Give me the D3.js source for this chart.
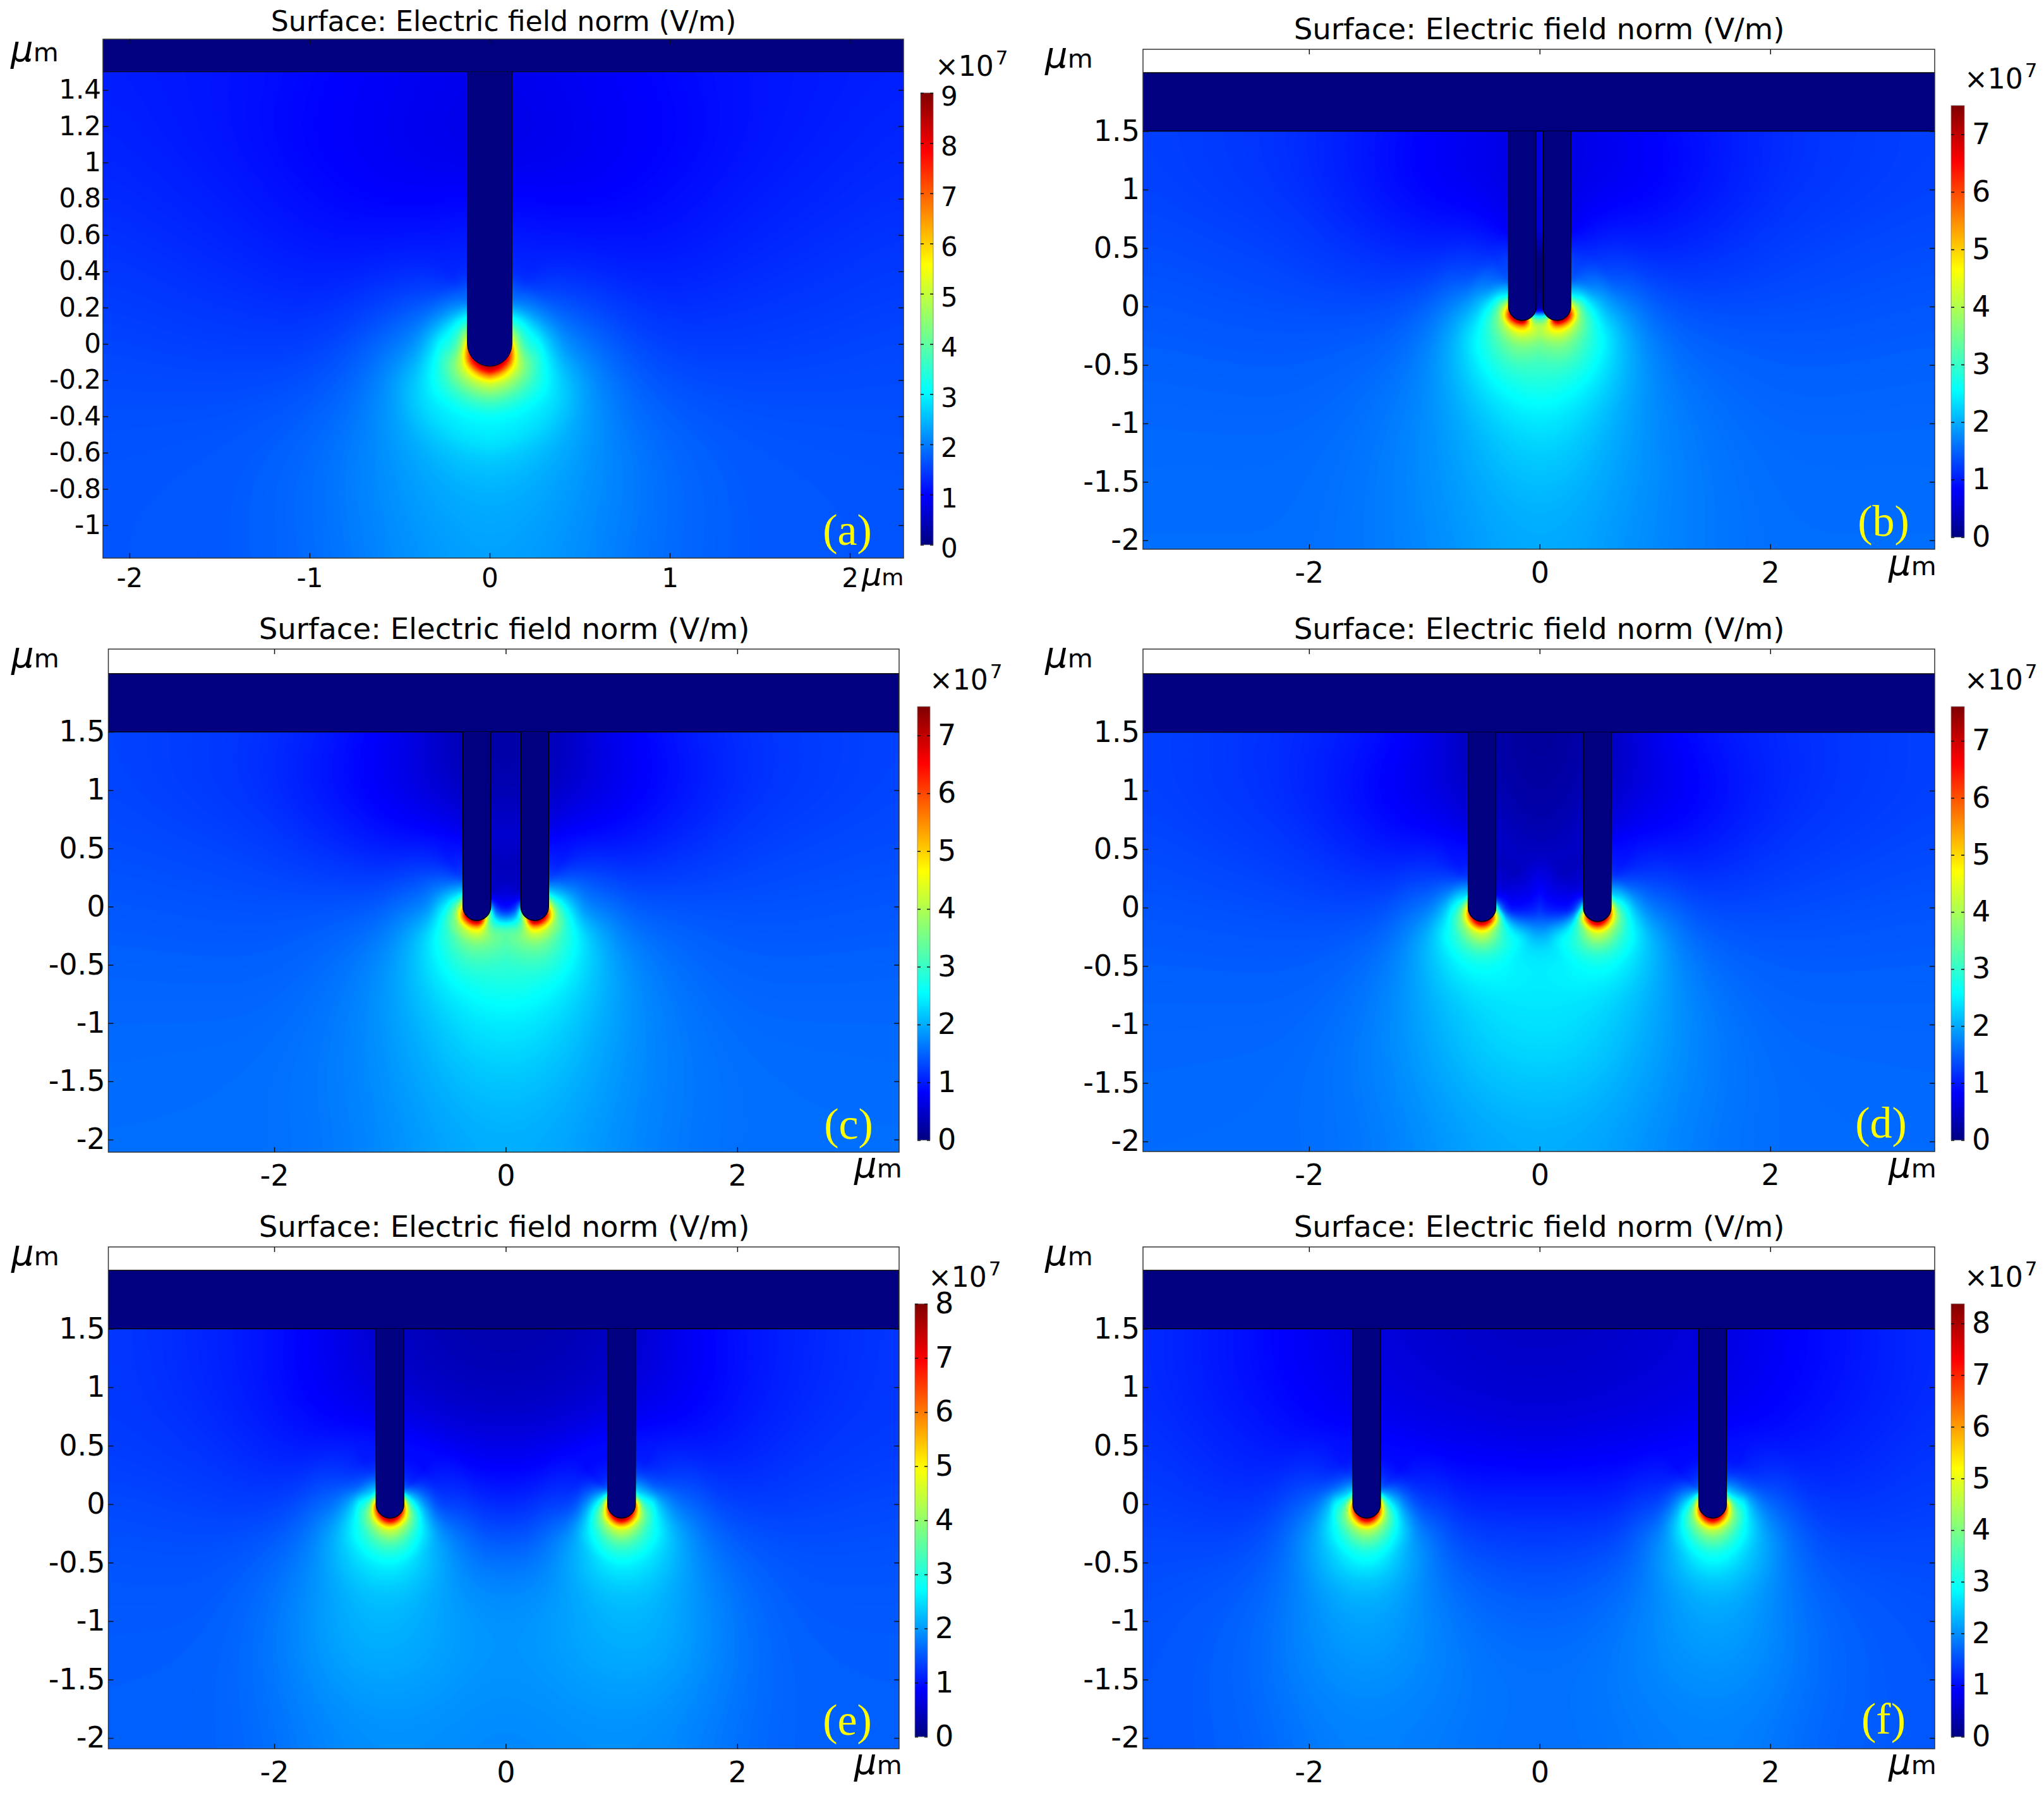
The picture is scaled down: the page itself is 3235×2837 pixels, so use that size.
<!DOCTYPE html>
<html>
<head>
<meta charset="utf-8">
<title>Surface: Electric field norm</title>
<script src="https://cdn.jsdelivr.net/npm/d3@7"></script>
<style>
  html, body { margin: 0; padding: 0; background: #fff; }
  text { font-family: "DejaVu Sans", sans-serif; fill: #000; }
  .domain { display: none; }
</style>
</head>
<body>
<svg id="chart" width="3235" height="2837"></svg>
<script>
// field norm values below are in units of 1e7 V/m, read by eye from the colours of the picture

const jetStops = [0, 0.11, 0.34, 0.62, 0.87, 1]
const jetColors = ['#000080', '#0000ff', '#00ffff', '#ffff00', '#ff0000', '#800000']

const titleText = 'Surface: Electric field norm (V/m)'
const panelNames = ['(a)', '(b)', '(c)', '(d)', '(e)', '(f)']
const colorMax = [9, 7.5, 7.5, 7.6, 8, 8.38]
const tipX = [0, 0.15, 0.25, 0.5, 1, 1.5]

const xTicksA = [-2, -1, 0, 1, 2]
const xTicks = [-2, 0, 2]
const yTicksA = [-1, -0.8, -0.6, -0.4, -0.2, 0, 0.2, 0.4, 0.6, 0.8, 1, 1.2, 1.4]
const yTicks = [-2, -1.5, -1, -0.5, 0, 0.5, 1, 1.5]

// around a tip: value by angle from straight down (+ = away from centre) and distance from tip centre
const haloDist = [0.124, 0.15, 0.18, 0.22, 0.27, 0.33, 0.42, 0.55, 0.75, 1.0]
const haloAnglesA = [0, 45, 90, 120, 150]
const haloAngles = [-135, -90, -45, 0, 45, 90, 120, 150]

const haloA = [
  [8.7, 7.9, 6.5, 5.2, 4.4, 3.65, 3.05, 2.85, 2.5, 2.35],
  [8.2, 7, 5.7, 4.8, 4.1, 3.5, 3, 2.65, 2.2, 2],
  [6, 4.8, 3.9, 3.4, 3.1, 2.65, 2.2, 1.9, 1.65, 1.52],
  [4.5, 4.2, 3.5, 3, 2.5, 2.1, 1.75, 1.5, 1.3, 1.25],
  [3, 3, 3, 2.5, 2, 1.7, 1.35, 1.2, 1.1, 1.05]
]
const haloB = [
  [0.02, 0.02, 0.02, 0.02, 0.02, 0.02, 0.02, 0.02, 0.02, 0.02],
  [0.1, 0.3, 0.8, 1, 1, 1, 1, 1, 1, 1],
  [3, 3.3, 3.5, 3.9, 3.9, 3.6, 3.25, 2.9, 2.6, 2.35],
  [7.3, 6.2, 5.2, 4.55, 4.05, 3.65, 3.3, 2.95, 2.6, 2.35],
  [7, 6, 5, 4.1, 3.6, 3.2, 2.85, 2.55, 2.15, 1.88],
  [5, 4.2, 3.7, 3.1, 2.65, 2.35, 2.05, 1.78, 1.5, 1.4],
  [3.4, 3, 2.5, 2.3, 2, 1.75, 1.6, 1.3, 1.12, 1.05],
  [2.2, 2.2, 2, 1.7, 1.45, 1.35, 1.25, 1.1, 0.98, 0.9]
]
const haloC = [
  [0.55, 0.55, 0.5, 0.45, 0.45, 0.42, 0.4, 0.38, 0.35, 0.3],
  [2, 1.4, 1.1, 0.95, 0.9, 0.9, 0.9, 0.9, 0.9, 0.9],
  [4.4, 3.6, 3, 2.9, 3.1, 3.3, 3.2, 2.9, 2.55, 2.35],
  [7.3, 6.3, 5.2, 4.45, 3.95, 3.55, 3.2, 2.9, 2.55, 2.3],
  [6.8, 5.8, 4.8, 3.9, 3.5, 3.05, 2.75, 2.45, 2.12, 1.85],
  [4.8, 4.1, 3.4, 2.9, 2.5, 2.2, 1.85, 1.6, 1.38, 1.28],
  [3.6, 3.1, 2.55, 2.2, 1.95, 1.7, 1.5, 1.28, 1.05, 0.92],
  [2.2, 2.2, 2, 1.7, 1.4, 1.2, 1.05, 0.92, 0.85, 0.8]
]
const haloD = [
  [1, 0.85, 0.72, 0.65, 0.55, 0.5, 0.42, 0.38, 0.28, 0.2],
  [3, 2, 1.45, 1.1, 0.95, 0.95, 1, 1.05, 1.05, 1.05],
  [6.2, 5.3, 4.2, 3.3, 2.9, 2.7, 2.6, 2.42, 2.5, 2.4],
  [7.3, 6.4, 5.3, 4.4, 3.9, 3.4, 2.9, 2.58, 2.35, 2.15],
  [6.5, 5.5, 4.6, 3.8, 3.3, 2.9, 2.6, 2.28, 1.98, 1.75],
  [5, 4, 3.3, 2.8, 2.45, 2.1, 1.8, 1.55, 1.35, 1.28],
  [3.4, 3, 2.4, 2.2, 1.9, 1.6, 1.4, 1.2, 1.05, 0.92],
  [2.2, 2.2, 2, 1.7, 1.4, 1.15, 1, 0.9, 0.85, 0.8]
]
const haloE = [
  [3.3, 2.2, 1.7, 1.35, 1.15, 1.05, 0.95, 0.88, 0.72, 0.55],
  [5.5, 4.2, 3.2, 2.65, 2.2, 1.8, 1.45, 1.25, 1.12, 1.05],
  [7, 5.9, 4.9, 4, 3.4, 2.9, 2.5, 2.12, 1.9, 1.82],
  [7.7, 6.8, 5.6, 4.6, 4.05, 3.5, 3, 2.58, 2.3, 2.1],
  [7, 6, 5, 4.1, 3.5, 3.05, 2.7, 2.35, 2.02, 1.78],
  [5.8, 4.6, 3.5, 3, 2.7, 2.25, 1.9, 1.6, 1.4, 1.3],
  [3.8, 3.2, 2.5, 2.2, 1.85, 1.55, 1.38, 1.22, 1.08, 1],
  [2.4, 2.4, 2.2, 1.8, 1.5, 1.25, 1.08, 0.98, 0.9, 0.85]
]
const haloF = [
  [3.3, 2.3, 1.8, 1.5, 1.3, 1.15, 1, 0.9, 0.78, 0.7],
  [5.6, 4.3, 3.3, 2.75, 2.35, 1.95, 1.6, 1.32, 1.15, 1.08],
  [7.2, 6.1, 5, 4.1, 3.5, 3, 2.55, 2.12, 1.82, 1.66],
  [8, 7, 5.8, 4.7, 4.1, 3.6, 3.05, 2.7, 2.32, 2.05],
  [7.2, 6.1, 5.1, 4.2, 3.6, 3.1, 2.7, 2.3, 1.98, 1.74],
  [5.9, 4.7, 3.7, 3.1, 2.8, 2.3, 1.9, 1.6, 1.35, 1.25],
  [4, 3.3, 2.6, 2.25, 1.9, 1.6, 1.38, 1.22, 1.08, 1],
  [2.4, 2.4, 2.2, 1.8, 1.5, 1.25, 1.08, 0.98, 0.9, 0.85]
]

// far from the tips: value on a coarse grid over x >= 0 (the field is mirrored about x = 0)
const farXA = [0, 0.3, 0.6, 1, 1.5, 2.3]
const farYA = [1.5, 1.2, 0.9, 0.6, 0.3, 0, -0.3, -0.6, -0.9, -1.19]
const farA = [
  [0.85, 0.9, 0.95, 1.05, 1.15, 1.25],
  [0.8, 0.85, 0.92, 1, 1.15, 1.3],
  [0.85, 0.88, 0.95, 1.05, 1.2, 1.35],
  [1, 1.02, 1.08, 1.15, 1.28, 1.42],
  [1.3, 1.28, 1.25, 1.3, 1.38, 1.5],
  [3, 2.85, 1.6, 1.48, 1.5, 1.58],
  [4, 3.05, 2.15, 1.7, 1.62, 1.62],
  [2.7, 2.6, 2.2, 1.85, 1.7, 1.66],
  [2.45, 2.35, 2.12, 1.88, 1.72, 1.68],
  [2.3, 2.22, 2.08, 1.85, 1.72, 1.68]
]
const farXNear = [0, 0.3, 0.6, 1, 1.5, 2.2, 3.45]
const farYRows = [1.5, 1.2, 0.9, 0.6, 0.3, 0, -0.4, -0.8, -1.2, -1.6, -2.11]
const farB = [
  [0.65, 0.68, 0.75, 0.85, 0.98, 1.15, 1.28],
  [0.62, 0.65, 0.72, 0.78, 0.95, 1.15, 1.28],
  [0.68, 0.7, 0.75, 0.85, 1, 1.18, 1.3],
  [0.95, 0.95, 0.95, 1, 1.1, 1.25, 1.34],
  [1.35, 1.3, 1.2, 1.18, 1.2, 1.3, 1.38],
  [2.2, 1.95, 1.6, 1.4, 1.35, 1.36, 1.42],
  [3.25, 2.7, 2, 1.62, 1.5, 1.45, 1.48],
  [2.7, 2.45, 2.05, 1.75, 1.58, 1.5, 1.52],
  [2.35, 2.2, 1.98, 1.78, 1.62, 1.55, 1.55],
  [2.1, 2.05, 1.92, 1.78, 1.64, 1.56, 1.56],
  [1.98, 1.95, 1.85, 1.75, 1.64, 1.58, 1.58]
]
const farC = [
  [0.22, 0.28, 0.55, 0.78, 1, 1.18, 1.3],
  [0.22, 0.25, 0.5, 0.72, 0.92, 1.15, 1.3],
  [0.32, 0.33, 0.55, 0.75, 0.95, 1.18, 1.32],
  [0.45, 0.48, 0.7, 0.92, 1.08, 1.25, 1.34],
  [0.6, 0.62, 1, 1.18, 1.22, 1.32, 1.38],
  [0.9, 0.95, 1.75, 1.55, 1.4, 1.38, 1.42],
  [3.2, 3.1, 2.5, 1.82, 1.55, 1.46, 1.48],
  [2.7, 2.6, 2.25, 1.88, 1.62, 1.52, 1.52],
  [2.35, 2.3, 2.1, 1.85, 1.66, 1.56, 1.55],
  [2.15, 2.1, 2, 1.82, 1.66, 1.58, 1.56],
  [2, 1.98, 1.9, 1.78, 1.64, 1.58, 1.58]
]
const farD = [
  [0.12, 0.2, 0.42, 0.78, 1, 1.15, 1.3],
  [0.15, 0.22, 0.4, 0.68, 0.9, 1.12, 1.3],
  [0.2, 0.28, 0.45, 0.68, 0.88, 1.15, 1.3],
  [0.3, 0.4, 0.55, 0.8, 1, 1.2, 1.34],
  [0.7, 0.72, 0.8, 1.02, 1.15, 1.28, 1.38],
  [1.05, 0.9, 1.3, 1.55, 1.32, 1.36, 1.42],
  [2.25, 2.3, 2.5, 2, 1.55, 1.46, 1.48],
  [2.45, 2.48, 2.4, 2, 1.65, 1.52, 1.52],
  [2.35, 2.35, 2.2, 1.95, 1.7, 1.56, 1.55],
  [2.15, 2.15, 2.05, 1.88, 1.68, 1.58, 1.56],
  [2, 1.98, 1.92, 1.8, 1.65, 1.58, 1.58]
]
const farXE = [0, 0.4, 0.8, 1.2, 1.6, 2, 2.6, 3.45]
const farE = [
  [0.3, 0.33, 0.42, 0.6, 0.85, 1, 1.15, 1.3],
  [0.36, 0.38, 0.45, 0.6, 0.8, 0.98, 1.15, 1.3],
  [0.45, 0.47, 0.55, 0.68, 0.85, 1, 1.18, 1.3],
  [0.6, 0.66, 0.78, 0.85, 0.95, 1.08, 1.22, 1.32],
  [0.88, 0.95, 1.05, 1.1, 1.1, 1.16, 1.28, 1.36],
  [1.15, 1.22, 1.45, 1.55, 1.4, 1.3, 1.36, 1.42],
  [1.6, 1.72, 2.1, 2.3, 1.95, 1.58, 1.46, 1.48],
  [1.9, 1.98, 2.2, 2.3, 2, 1.72, 1.52, 1.52],
  [1.95, 2, 2.15, 2.2, 2.02, 1.75, 1.56, 1.55],
  [1.92, 1.95, 2.02, 2.02, 1.92, 1.72, 1.58, 1.56],
  [1.82, 1.88, 1.9, 1.9, 1.82, 1.68, 1.58, 1.58]
]
const farXF = [0, 0.5, 1, 1.5, 2, 2.5, 3.45]
const farF = [
  [0.5, 0.52, 0.6, 0.68, 0.85, 1.02, 1.28],
  [0.55, 0.56, 0.62, 0.7, 0.85, 1, 1.28],
  [0.6, 0.62, 0.72, 0.8, 0.92, 1.05, 1.28],
  [0.68, 0.78, 0.88, 0.92, 1.02, 1.12, 1.32],
  [0.95, 0.98, 1.06, 1.12, 1.18, 1.2, 1.36],
  [1.2, 1.2, 1.32, 1.55, 1.42, 1.3, 1.42],
  [1.42, 1.48, 1.78, 2.3, 1.85, 1.5, 1.48],
  [1.62, 1.68, 1.95, 2.3, 1.98, 1.65, 1.52],
  [1.75, 1.78, 2, 2.15, 2, 1.7, 1.55],
  [1.78, 1.82, 1.92, 2, 1.92, 1.7, 1.56],
  [1.75, 1.8, 1.85, 1.9, 1.82, 1.66, 1.58]
]

const fieldData = [
  { farX: farXA, farY: farYA, far: farA, angles: haloAnglesA, halo: haloA, tipR: 0.124 },
  { farX: farXNear, farY: farYRows, far: farB, angles: haloAngles, halo: haloB, tipR: 0.12 },
  { farX: farXNear, farY: farYRows, far: farC, angles: haloAngles, halo: haloC, tipR: 0.12 },
  { farX: farXNear, farY: farYRows, far: farD, angles: haloAngles, halo: haloD, tipR: 0.12 },
  { farX: farXE, farY: farYRows, far: farE, angles: haloAngles, halo: haloE, tipR: 0.12 },
  { farX: farXF, farY: farYRows, far: farF, angles: haloAngles, halo: haloF, tipR: 0.12 }
]

// page layout, in pixels
const layouts = [
  { box: [163, 62, 1430, 883], xDom: [-2.147, 2.298], yDom: [1.68, -1.181], bar: [1457, 147, 1477, 862], font: 42, tickPad: 16, titleSize: 44.2, titleX: 797, titleY: 49, muY: 97, muBottomX: 1364, muBottomY: 926, muScale: 0.88, expX: 1480, labelX: 1341, labelY: 862, barDy: 6, strokeW: 1 },
  { box: [1809, 78, 3062, 869], xDom: [-3.44, 3.426], yDom: [2.2, -2.076], bar: [3088, 167, 3109, 850], font: 46, tickPad: 20, titleSize: 46.6, titleX: 2436, titleY: 62, muY: 107, muBottomX: 2989, muBottomY: 910, muScale: 1, expX: 3109, labelX: 2981, labelY: 848, barDy: 0, strokeW: 1.5 },
  { box: [171.5, 1027, 1423, 1823], xDom: [-3.433, 3.398], yDom: [2.211, -2.108], bar: [1452, 1118, 1472, 1804], font: 46, tickPad: 20, titleSize: 46.6, titleX: 798, titleY: 1011, muY: 1056, muBottomX: 1352, muBottomY: 1863, muScale: 1, expX: 1471, labelX: 1343, labelY: 1802, barDy: 0, strokeW: 1.5 },
  { box: [1809, 1027, 3062, 1822], xDom: [-3.44, 3.426], yDom: [2.211, -2.086], bar: [3088, 1118, 3109, 1804], font: 46, tickPad: 20, titleSize: 46.6, titleX: 2436, titleY: 1011, muY: 1056, muBottomX: 2989, muBottomY: 1863, muScale: 1, expX: 3109, labelX: 2977, labelY: 1800, barDy: 0, strokeW: 1.5 },
  { box: [171.5, 1973, 1423, 2767], xDom: [-3.433, 3.398], yDom: [2.2, -2.092], bar: [1448, 2063, 1468, 2748], font: 46, tickPad: 20, titleSize: 46.6, titleX: 798, titleY: 1957, muY: 2002, muBottomX: 1352, muBottomY: 2807, muScale: 1, expX: 1469, labelX: 1341, labelY: 2745, barDy: 0, strokeW: 1.5 },
  { box: [1809, 1973, 3062, 2767], xDom: [-3.44, 3.426], yDom: [2.2, -2.092], bar: [3088, 2063, 3109, 2748], font: 46, tickPad: 20, titleSize: 46.6, titleX: 2436, titleY: 1957, muY: 2002, muBottomX: 2989, muBottomY: 2807, muScale: 1, expX: 3109, labelX: 2981, labelY: 2743, barDy: 0, strokeW: 1.5 }
]
const muLeftX = [17, 1654, 18, 1654, 18, 1654]
const NAVY = '#000080'
const CELL = 3

// shape-preserving cubic through read values, so nothing overshoots between them
function slopes(xs, ys) {
  const n = xs.length
  const m = new Array(n)
  const h = [], s = []
  for (let i = 0; i < n - 1; i++) {
    h[i] = xs[i + 1] - xs[i]
    s[i] = (ys[i + 1] - ys[i]) / h[i]
  }
  m[0] = s[0]
  m[n - 1] = s[n - 2]
  for (let i = 1; i < n - 1; i++) {
    if (s[i - 1] * s[i] <= 0) m[i] = 0
    else {
      const w1 = 2 * h[i] + h[i - 1], w2 = h[i] + 2 * h[i - 1]
      m[i] = (w1 + w2) / (w1 / s[i - 1] + w2 / s[i])
    }
  }
  return m
}

function cubicAt(xs, ys, ms, x) {
  const n = xs.length
  if (x <= xs[0]) return ys[0]
  if (x >= xs[n - 1]) return ys[n - 1]
  let i = 0
  while (x > xs[i + 1]) i++
  const h = xs[i + 1] - xs[i], t = (x - xs[i]) / h
  const t2 = t * t, t3 = t2 * t
  return (2 * t3 - 3 * t2 + 1) * ys[i] + (t3 - 2 * t2 + t) * h * ms[i] +
    (-2 * t3 + 3 * t2) * ys[i + 1] + (t3 - t2) * h * ms[i + 1]
}

const smoothstep = (a, b, v) => {
  const t = Math.max(0, Math.min(1, (v - a) / (b - a)))
  return t * t * (3 - 2 * t)
}

// fine grid of the field for d3.contours, built only from the read tables above
function buildGrid(data, x0, xScale, yScale, nx, ny) {
  const farYAsc = data.farY.slice().reverse()
  const farRows = data.far.slice().reverse()
  const rowSlopes = farRows.map(r => slopes(data.farX, r))
  const haloSlopes = data.halo.map(r => slopes(haloDist, r))
  const values = new Float64Array(nx * ny)
  const dists = new Float64Array(nx * ny)
  const outerD = haloDist[haloDist.length - 2], edgeD = haloDist[haloDist.length - 1]

  for (let i = 0; i < nx; i++) {
    const x = Math.abs(xScale.invert((i - 1 + 0.5) * CELL))
    const col = farRows.map((r, k) => cubicAt(data.farX, r, rowSlopes[k], x))
    const colSlopes = slopes(farYAsc, col)
    for (let j = 0; j < ny; j++) {
      const y = yScale.invert((j - 1 + 0.5) * CELL)
      let v = cubicAt(farYAsc, col, colSlopes, y)
      const dx = x - x0
      const d = Math.hypot(dx, y)
      if (d < edgeD) {
        const theta = Math.atan2(dx, -y) * 180 / Math.PI
        const byAngle = data.halo.map((r, k) => cubicAt(haloDist, r, haloSlopes[k], d))
        const near = cubicAt(data.angles, byAngle, slopes(data.angles, byAngle), theta)
        const w = 1 - smoothstep(outerD, edgeD, d)
        v = w * near + (1 - w) * v
      }
      values[i + j * nx] = v
      dists[i + j * nx] = d
    }
  }

  // soften the coarse tables away from the tip; next to the tip the read values stay as they are
  const soft = Float64Array.from(values)
  d3.blur2({ data: soft, width: nx, height: ny }, 14)
  for (let k = 0; k < values.length; k++) {
    const s = smoothstep(0.4, 0.75, dists[k])
    values[k] = (1 - s) * values[k] + s * soft[k]
  }
  return values
}

const svg = d3.select('#chart')
const defs = svg.append('defs')

const barGradient = defs.append('linearGradient')
  .attr('id', 'jet-bar')
  .attr('x1', 0).attr('x2', 0)
  .attr('y1', 1).attr('y2', 0)
barGradient.selectAll('stop')
  .data(jetStops)
  .enter()
  .append('stop')
  .attr('offset', d => d)
  .attr('stop-color', (d, i) => jetColors[i])

const styleTicks = (g, size) => {
  g.selectAll('text').style('font-size', size + 'px').style('font-family', '"DejaVu Sans", sans-serif')
  g.selectAll('line').attr('stroke', '#111').attr('stroke-width', 1.5)
}

const renderField = (g, idx, layout, xScale, yScale, width, height) => {
  const M = colorMax[idx]
  const color = d3.scaleLinear().domain(jetStops.map(s => s * M)).range(jetColors).clamp(true)
  const nx = Math.ceil(width / CELL) + 2
  const ny = Math.ceil(height / CELL) + 2
  const values = buildGrid(fieldData[idx], tipX[idx], xScale, yScale, nx, ny)
  // fine steps in the blues where the big smooth areas are, coarser through the hot colours
  const levels = d3.range(0, 0.45 * M, M / 420).concat(d3.range(0.45 * M, M, M / 150))
  const contours = d3.contours().size([nx, ny]).smooth(true).thresholds(levels)(values)
  const path = d3.geoPath(d3.geoIdentity().scale(CELL))

  const clipId = 'plot-clip-' + idx
  defs.append('clipPath').attr('id', clipId)
    .append('rect').attr('width', width).attr('height', height)

  const plot = g.append('g').attr('clip-path', `url(#${clipId})`)
  plot.append('rect').attr('width', width).attr('height', height).attr('fill', color(0))
  plot.append('g')
    .attr('transform', `translate(${-CELL},${-CELL})`)
    .selectAll('path')
    .data(contours)
    .enter()
    .append('path')
    .attr('d', path)
    .attr('fill', d => color(d.value))

  // white gap above the electrode plate, plate itself, then the tips
  plot.append('rect').attr('width', width).attr('height', yScale(1.5)).attr('fill', '#fff')
  plot.append('rect')
    .attr('y', yScale(2))
    .attr('width', width)
    .attr('height', yScale(1.5) - yScale(2))
    .attr('fill', NAVY)
    .attr('stroke', '#000')
    .attr('stroke-width', layout.strokeW)

  const r = fieldData[idx].tipR
  const centers = tipX[idx] === 0 ? [0] : [-tipX[idx], tipX[idx]]
  plot.selectAll('.tip')
    .data(centers)
    .enter()
    .append('path')
    .attr('class', 'tip')
    .attr('d', c => {
      const rPx = xScale(c + r) - xScale(c)
      const p = d3.path()
      p.moveTo(xScale(c) - rPx, yScale(1.5))
      p.lineTo(xScale(c) - rPx, yScale(0))
      p.arc(xScale(c), yScale(0), rPx, Math.PI, 0, true)
      p.lineTo(xScale(c) + rPx, yScale(1.5))
      return p.toString()
    })
    .attr('fill', NAVY)
    .attr('stroke', '#000')
    .attr('stroke-width', layout.strokeW)
}

const renderAxes = (g, idx, layout, xScale, yScale, width, height) => {
  const xVals = idx === 0 ? xTicksA : xTicks
  const yVals = idx === 0 ? yTicksA : yTicks
  const fmt = d => String(d)

  g.append('rect')
    .attr('width', width).attr('height', height)
    .attr('fill', 'none').attr('stroke', '#333').attr('stroke-width', 1.5)

  g.append('g').attr('transform', `translate(0,${height})`)
    .call(d3.axisBottom(xScale).tickValues(xVals).tickFormat(fmt).tickSize(-8).tickPadding(layout.tickPad))
    .call(styleTicks, layout.font)
  g.append('g')
    .call(d3.axisTop(xScale).tickValues(xVals).tickSize(-8))
    .call(styleTicks, layout.font)
    .selectAll('text').remove()
  g.append('g')
    .call(d3.axisLeft(yScale).tickValues(yVals).tickFormat(fmt).tickSize(-8).tickPadding(idx === 0 ? 3 : 5))
    .call(styleTicks, layout.font)
  g.append('g').attr('transform', `translate(${width},0)`)
    .call(d3.axisRight(yScale).tickValues(yVals).tickSize(-8))
    .call(styleTicks, layout.font)
    .selectAll('text').remove()
}

const renderColorbar = (idx, layout) => {
  const [bx0, by0, bx1, by1] = layout.bar
  const M = colorMax[idx]
  const barScale = d3.scaleLinear().domain([0, M]).range([by1 - by0, 0])
  const barTicks = d3.range(0, Math.floor(M) + 1)
  const bar = svg.append('g').attr('transform', `translate(${bx0},${by0})`)

  bar.append('rect')
    .attr('width', bx1 - bx0).attr('height', by1 - by0)
    .attr('fill', 'url(#jet-bar)')
    .attr('stroke', '#777').attr('stroke-width', 0.8)

  bar.append('g').attr('transform', `translate(${bx1 - bx0},0)`)
    .call(d3.axisRight(barScale).tickValues(barTicks).tickFormat(String).tickSize(-5).tickPadding(12))
    .call(styleTicks, layout.font)
    .selectAll('text').attr('transform', `translate(0,${layout.barDy})`)
  bar.append('g')
    .call(d3.axisLeft(barScale).tickValues(barTicks).tickSize(-5))
    .call(styleTicks, layout.font)
    .selectAll('text').remove()

  // multiplier above the bar
  const expText = svg.append('text')
    .attr('x', layout.expX)
    .attr('y', by0 - 27)
    .style('font-size', '44px')
    .text('\u00d710')
  expText.append('tspan')
    .attr('dy', -18)
    .attr('dx', 3)
    .style('font-size', '31px')
    .text('7')
}

const renderMuLabel = (x, y, scale) => {
  const label = svg.append('text').attr('x', x).attr('y', y)
  label.append('tspan').style('font-size', (56 * scale) + 'px').style('font-style', 'italic').text('\u03bc')
  label.append('tspan').style('font-size', (41 * scale) + 'px').text('m')
}

layouts.forEach((layout, idx) => {
  const [left, top, right, bottom] = layout.box
  const width = right - left
  const height = bottom - top
  const xScale = d3.scaleLinear().domain(layout.xDom).range([0, width])
  const yScale = d3.scaleLinear().domain(layout.yDom).range([0, height])
  const g = svg.append('g').attr('transform', `translate(${left},${top})`)

  renderField(g, idx, layout, xScale, yScale, width, height)
  renderAxes(g, idx, layout, xScale, yScale, width, height)
  renderColorbar(idx, layout)

  svg.append('text')
    .attr('x', layout.titleX)
    .attr('y', layout.titleY)
    .attr('text-anchor', 'middle')
    .style('font-size', layout.titleSize + 'px')
    .text(titleText)

  renderMuLabel(muLeftX[idx], layout.muY, 1)
  renderMuLabel(layout.muBottomX, layout.muBottomY, layout.muScale)

  svg.append('text')
    .attr('x', layout.labelX)
    .attr('y', layout.labelY)
    .attr('text-anchor', 'middle')
    .style('font-family', '"Liberation Serif", serif')
    .style('font-size', '70px')
    .style('fill', '#ffff00')
    .text(panelNames[idx])
})
</script>
</body>
</html>
